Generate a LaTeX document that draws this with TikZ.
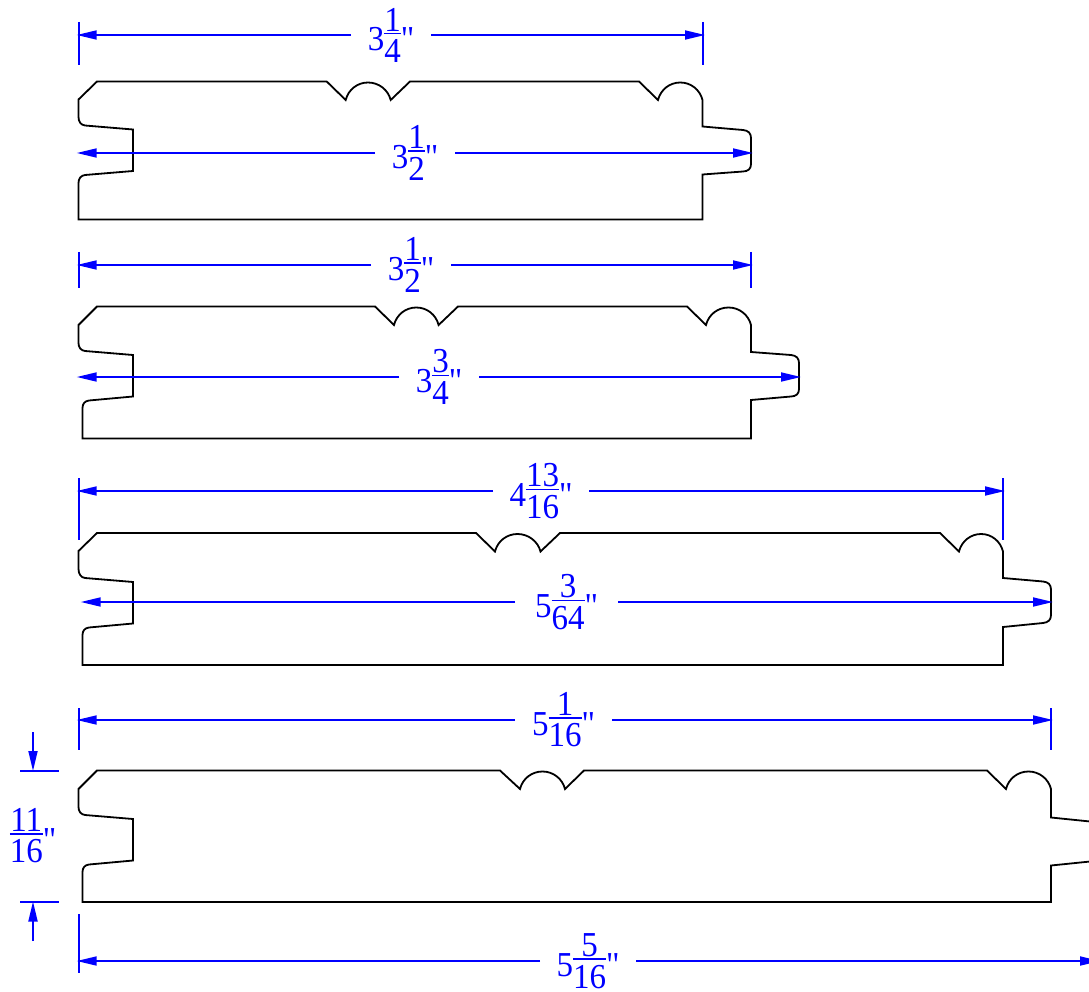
\documentclass[tikz,border=0pt]{standalone}
\usepackage{fontspec}
\newfontfamily\dimfont[FakeStretch=0.943]{Liberation Serif}
\usetikzlibrary{arrows.meta}
\definecolor{dimblue}{RGB}{0,0,255}
\newcommand\fr[2]{\raise9.3pt\hbox{$\vcenter{\offinterlineskip\halign{\hfil##\hfil\cr #1\cr\noalign{\kern1.5pt\hrule height 1.5pt\kern5pt}#2\cr}}$}}
% name, y, x-left, x-right, x-centre of gap, gap width, text
\newcommand\dimh[7]{%
  \coordinate (#1L) at (#3,#2);
  \coordinate (#1R) at (#4,#2);
  \node[dimlabel,minimum width=#6pt] (#1) at (#5,#2) {#7};
  \draw[dimline] (#1.west) -- (#1L);
  \draw[dimline] (#1.east) -- (#1R);
}
% name, x, y-top, y-bottom
\newcommand\extl[4]{%
  \coordinate (#1a) at (#2,#3);
  \coordinate (#1b) at (#2,#4);
  \draw[extline] (#1a) -- (#1b);
}
\tikzset{
  dimlabel/.style={text=dimblue,inner sep=0pt,outer sep=0pt,font=\dimfont\fontsize{35}{35}\selectfont},
  dimline/.style={draw=dimblue,line width=1.8pt,-{Triangle[length=20pt,width=9pt,sep=0pt]}},
  extline/.style={draw=dimblue,line width=2pt},
  board/.style={draw=black,line width=1.8pt,line join=miter}
}
\begin{document}
\begin{tikzpicture}[x=1pt,y=-1pt]
\useasboundingbox (0,0) rectangle (1089,992);
\clip (0,0) rectangle (1089,992);
% Board 1
\draw[board] (97,81.5) -- (326.7,81.5) -- (345.7,100)
  .. controls (348.3,89.7) and (357.3,82.5) .. (368,82.5)
  .. controls (378.7,82.5) and (388.1,89.7) .. (390.7,100)
  -- (410,81.5) -- (639,81.5) -- (658,100)
  .. controls (660.6,89.7) and (669.6,82.5) .. (680.3,82.5)
  .. controls (691,82.5) and (699.9,89.7) .. (702.5,100)
  -- (702.5,126.5) -- (743,130)
  .. controls (748,130.5) and (751,133) .. (751,138)
  -- (751,164)
  .. controls (751,169) and (748,171.3) .. (743,171.5)
  -- (702.5,174.5) -- (702.5,219.5) -- (78.5,219.5) -- (78.5,183)
  .. controls (78.5,178.5) and (81,175.5) .. (85,175)
  -- (133,171) -- (133,129.5) -- (85,125.5)
  .. controls (81,125) and (78.5,122) .. (78.5,117)
  -- (78.5,99.5) -- cycle;
% Board 2
\draw[board] (97,306.5) -- (375,306.5) -- (394,325)
  .. controls (396.6,314.7) and (405.6,307.5) .. (416.3,307.5)
  .. controls (427,307.5) and (436,314.7) .. (438.6,325)
  -- (458,306.5) -- (687,306.5) -- (706,325)
  .. controls (708.6,314.7) and (717.6,307.5) .. (728.5,307.5)
  .. controls (739.2,307.5) and (748.4,314.7) .. (751,325)
  -- (751,352) -- (791,355)
  .. controls (796,355.5) and (799,358) .. (799,363)
  -- (799,389)
  .. controls (799,394) and (796,396.3) .. (791,396.5)
  -- (751,400) -- (751,438.5) -- (82.5,438.5) -- (82.5,408)
  .. controls (82.5,403.5) and (85,401) .. (89,400.5)
  -- (133,396.5) -- (133,355) -- (85,351)
  .. controls (81,350.5) and (78.5,347.5) .. (78.5,343)
  -- (78.5,325) -- cycle;
% Board 3
\draw[board] (97,533) -- (476,533) -- (495,551.5)
  .. controls (497.6,541.2) and (506.6,534) .. (517.5,534)
  .. controls (528.2,534) and (537.9,541.2) .. (540.5,551.5)
  -- (560,533) -- (940,533) -- (959,551.5)
  .. controls (961.6,541.2) and (970.6,534) .. (981,534)
  .. controls (991.7,534) and (1000.4,541.2) .. (1003,551.5)
  -- (1003,578) -- (1043,581.5)
  .. controls (1048,582) and (1051,584.5) .. (1051,589.5)
  -- (1051,615)
  .. controls (1051,620) and (1048,622.5) .. (1043,623)
  -- (1003,627) -- (1003,665) -- (82.5,665) -- (82.5,635)
  .. controls (82.5,630.5) and (85,628) .. (89,627.5)
  -- (133,623.5) -- (133,582) -- (85,578)
  .. controls (81,577.5) and (78.5,574) .. (78.5,569)
  -- (78.5,551) -- cycle;
% Board 4
\draw[board] (97,770.5) -- (500,770.5) -- (520,789)
  .. controls (522.6,778.7) and (531.6,771.5) .. (542.5,771.5)
  .. controls (553.2,771.5) and (562.4,778.7) .. (565,789)
  -- (584,770.5) -- (987,770.5) -- (1006,789)
  .. controls (1008.6,778.7) and (1017.6,771.5) .. (1028.5,771.5)
  .. controls (1039.2,771.5) and (1048.4,778.7) .. (1051,789)
  -- (1051,817.5) -- (1095,822) -- (1095,861) -- (1051,865.5)
  -- (1051,902) -- (82.5,902) -- (82.5,872)
  .. controls (82.5,867.5) and (85,865) .. (89,864.5)
  -- (133,860.5) -- (133,819) -- (85,815)
  .. controls (81,814.5) and (78.5,811.5) .. (78.5,807)
  -- (78.5,789) -- cycle;
% Dimensions
\extl{e1}{79}{22}{65}
\extl{e2}{703}{22}{65}
\dimh{d1}{35}{76.7}{705}{391}{80}{3\fr{1}{4}"}
\dimh{d2}{153}{76.7}{753}{415}{80}{3\fr{1}{2}"}
\extl{e3}{79}{252}{288}
\extl{e4}{751}{252}{288}
\dimh{d3}{265}{76.7}{753}{411}{80}{3\fr{1}{2}"}
\dimh{d4}{377}{76.7}{801}{439}{80}{3\fr{3}{4}"}
\extl{e5}{79}{478}{540}
\extl{e6}{1003}{478}{540}
\dimh{d5}{491}{76.7}{1005}{541}{96}{4\fr{13}{16}"}
\dimh{d6}{602}{80.7}{1053}{566.5}{103}{5\fr{3}{64}"}
\extl{e7}{79}{708}{750}
\extl{e8}{1051}{708}{750}
\dimh{d7}{720}{76.7}{1053}{563.5}{97}{5\fr{1}{16}"}
\extl{e9}{79}{914}{973}
\dimh{d8}{961}{76.7}{1100}{588}{96}{5\fr{5}{16}"}
% Thickness dimension
\coordinate (t1a) at (20,771);
\coordinate (t1b) at (59,771);
\coordinate (t2a) at (20,902);
\coordinate (t2b) at (59,902);
\coordinate (t1s) at (33,732);
\coordinate (t1e) at (33,771);
\coordinate (t2s) at (33,941);
\coordinate (t2e) at (33,901.5);
\draw[extline] (t1a) -- (t1b);
\draw[extline] (t2a) -- (t2b);
\draw[dimline] (t1s) -- (t1e);
\draw[dimline] (t2s) -- (t2e);
\node[dimlabel] (t) at (33,836) {\fr{11}{16}"};
\end{tikzpicture}
\end{document}
